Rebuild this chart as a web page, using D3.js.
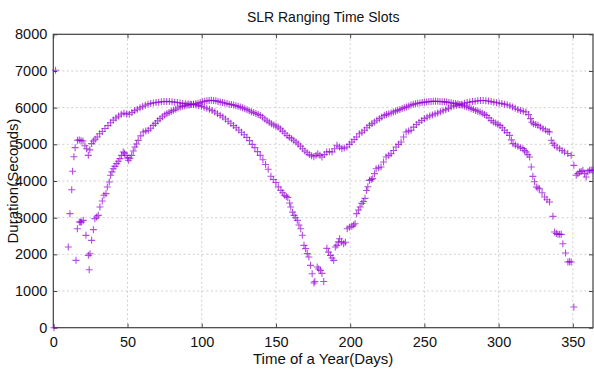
<!DOCTYPE html>
<html>
<head>
<meta charset="utf-8">
<script src="https://cdn.jsdelivr.net/npm/d3@7"></script>
<style>
  html, body { margin: 0; padding: 0; background: #fff; }
  svg { display: block; }
  text { font-family: "Liberation Sans", Arial, sans-serif; fill: #111; }
</style>
</head>
<body>
<svg id="chart" width="594" height="370"></svg>
<script>
// ---- Data (day of year, duration in seconds) ----
const chartTitle = "SLR Ranging Time Slots";
const xLabel = "Time of a Year(Days)";
const yLabel = "Duration(Seconds)";
const xTicks = [0, 50, 100, 150, 200, 250, 300, 350];
const yTicks = [0, 1000, 2000, 3000, 4000, 5000, 6000, 7000, 8000];

const extraPoints = [[1.5,7020],[0.5,0]];

const passA = [
[12.4,3760],[13,4265],[13.9,4660],[14.7,4910],[16.3,5110],[17.5,5120],[18.7,5100],[20,5090],[21.3,4960],[22.5,4880],[23.6,4700],[24.6,4850],[25.8,5020],[27,5090],[28.2,5140],[29.6,5200],[31.2,5290],[33,5350],[34.8,5430],[36.8,5510],[38.6,5590],[40.4,5660],[42.2,5720],[44,5770],[45.8,5820],[47.6,5850],[49.4,5830],[51.2,5820],[53,5870],[54.8,5920],[56.6,5955],[58.4,5995],[60.2,6030],[62,6065],[63.8,6095],[65.6,6115],[67.4,6130],[69.2,6140],[71,6150],[72.8,6160],[74.6,6165],[76.4,6170],[78.2,6165],[80,6160],[81.8,6150],[83.6,6140],[85.4,6130],[87.2,6115],[89,6105],[90.8,6100],[92.6,6095],[94.4,6090],[96.2,6075],[98,6055],[99.8,6035],[101.6,6010],[103.4,5985],[105.2,5955],[107,5920],[108.8,5880],[110.6,5835],[112.4,5790],[114.2,5745],[116,5690],[117.8,5630],[119.6,5575],[121.4,5510],[123.2,5450],[125,5390],[126.8,5330],[128.6,5260],[130.4,5190],[132.2,5100],[134,5000],[135.8,4910],[137.6,4800],[139.4,4700],[141.2,4580],[143,4450],[144.8,4320],[146.6,4130],[148.2,4040],[150,3960],[151.6,3840],[153.3,3745],[154.5,3680],[155.6,3610],[157,3580],[158,3550],[159.2,3400],[160,3290],[161.2,3150],[162.2,3064],[163.3,3000],[164.4,2927],[165.5,2800],[166.7,2700],[167.8,2520],[168.9,2245],[170,2155],[171.1,2020],[172.2,1927],[173.3,1700],[174.4,1473],[175.6,1218],[176.2,1260],[177.8,1655],[178.8,1600],[180,1564],[181,1480],[182.2,1260],
[184.3,2164],[185.4,2060],[186.7,1973],[187.8,1900],[188.9,1836],[190,2200],[191.1,2245],[192.1,2340],[192.9,2427],[194.2,2340],[195.6,2290],[196.8,2330],[198,2700],[199.5,2740],[201.1,2764],[202.3,2800],[203.3,2836],[204.4,3110],[205.6,3208],[206.7,3290],[207.9,3390],[208.9,3440],[210,3527],[211,3740],[211.9,3843],[213,4018],[214.2,4040],[215.2,4064],[216.4,4200],[217.5,4336],[219.2,4360],[220.8,4382],[222.5,4520],[224.2,4655],[226,4700],[227.6,4745],[229.2,4830],[230.9,4927],[232.6,5000],[234.3,5064],[236,5200],[237.7,5336],[239.4,5360],[241,5382],[242.8,5470],[244.6,5540],[246.4,5600],[248.2,5650],[250,5700],[251.8,5740],[253.6,5775],[255.4,5800],[257.2,5830],[259,5855],[260.8,5885],[262.6,5915],[264.4,5945],[266.2,5980],[268,6018],[269.8,6045],[271.6,6064],[273.4,6080],[275.2,6095],[277,6120],[278.8,6140],[280.6,6155],[282.4,6165],[284.2,6175],[286,6185],[287.8,6195],[289.6,6195],[291.4,6190],[293.2,6180],[295,6165],[296.8,6150],[298.6,6135],[300.4,6125],[302.2,6110],[304,6095],[305.8,6080],[307.6,6050],[309.4,6020],[311.2,5985],[313,5950],[314.8,5920],[316.6,5900],[318.4,5880],[320.2,5810],[321.5,5700],[322.4,5600],[323.5,5560],[325,5540],[326.5,5518],[328.2,5470],[329.9,5427],[331.6,5390],[333.2,5350],[334.3,5336],[335.5,5110],[336.6,5030],[337.7,4973],[339.4,4920],[341.1,4880],[342.8,4830],[344.4,4790],[346.6,4750],[348.9,4700],[350.7,4427],[352.3,4155],[353.4,4200],[354.5,4245],[355.6,4260],[356.8,4290],[357.9,4200],[359,4110],[360.2,4250],[361.3,4290],[362.4,4300],[363.5,4290]
];

const passB = [
[10.1,2200],[11.2,3110],[15.3,1836],[16.2,2700],[17.5,2882],[18.3,2882],[19.1,2882],[20.2,2927],[22,2518],[23.6,1973],[24.2,1582],[24.7,2018],[25.8,2382],[27,2673],[28,2973],[29.2,3018],[30.3,3064],[31.4,3290],[33,3455],[34.1,3610],[35.5,3655],[36.4,3836],[37.7,3973],[38.6,4155],[39.5,4250],[40.4,4336],[41.5,4400],[42.7,4473],[43.8,4540],[44.9,4610],[46,4700],[47.1,4790],[48,4760],[49,4700],[50,4630],[50.6,4564],[51.7,4620],[52.8,4700],[53.9,4820],[55,4927],[56.1,5010],[57.2,5109],[58.9,5230],[60.6,5336],[62.3,5360],[64,5382],[65.6,5440],[67.3,5518],[68.8,5570],[70.3,5640],[71.9,5700],[73.5,5750],[75,5800],[76.5,5836],[78,5870],[79.5,5900],[81,5927],[82.5,5955],[84,5990],[85.5,6018],[87,6035],[88.5,6050],[90,6064],[91.5,6075],[93,6085],[94.5,6090],[96,6105],[97.5,6120],[99,6140],[100.5,6160],[102,6175],[103.5,6185],[105,6195],[106.5,6200],[108,6195],[109.5,6185],[111,6170],[112.5,6155],[114,6140],[115.5,6125],[117,6110],[118.5,6095],[120,6085],[121.5,6070],[123,6055],[124.5,6035],[126,6015],[127.5,5995],[129,5970],[130.5,5945],[132,5915],[133.5,5890],[135,5865],[136.5,5840],[138,5815],[139.5,5785],[141,5740],[142.5,5690],[144,5640],[145.5,5600],[147,5560],[148.5,5530],[150,5500],[151.5,5470],[153,5420],[154.5,5360],[156,5300],[157.5,5240],[159,5190],[160.5,5150],[162,5110],[163.5,5060],[165,5010],[166.5,4950],[168,4880],[169.5,4820],[171,4770],[172.5,4720],[174,4690],[175.5,4660],[177,4700],[178.2,4745],[179.6,4700],[181,4655],[182.6,4720],[184.2,4790],[186,4800],[187.8,4790],[189.5,4880],[191.1,4973],[192.8,4930],[194.4,4882],[196,4900],[197.8,4927],[199.5,5000],[201.1,5064],[202.7,5130],[204.4,5200],[206.2,5290],[207.9,5330],[209.6,5382],[211.3,5450],[213,5518],[214.7,5565],[216.3,5610],[218,5655],[219.7,5700],[221.3,5745],[223,5790],[224.5,5810],[226,5835],[227.6,5855],[229.1,5880],[230.6,5905],[232,5927],[233.5,5950],[235,5975],[236.5,6000],[238,6020],[239.5,6045],[241,6070],[242.5,6090],[244,6105],[245.5,6120],[247,6130],[248.5,6140],[250,6150],[251.5,6155],[253,6165],[254.5,6170],[256,6172],[257.5,6173],[259,6172],[260.5,6168],[262,6163],[263.5,6158],[265,6152],[266.5,6143],[268,6135],[269.5,6122],[271,6112],[272.5,6098],[274,6080],[275.5,6066],[277,6045],[278.5,6025],[280,6000],[281.5,5973],[283,5950],[284.5,5925],[286,5900],[287.5,5880],[289,5850],[290.5,5815],[292,5785],[293.5,5720],[295,5650],[296.5,5610],[298,5580],[299.5,5545],[301,5510],[302.5,5450],[304,5382],[305.7,5320],[307.4,5245],[308.6,5120],[309.7,5018],[311.3,4980],[313,4945],[314.7,4910],[316.4,4882],[317.5,4830],[318.6,4790],[319.7,4720],[320.9,4655],[322,4382],[323.1,4127],[324.2,3980],[325.4,3836],[326.5,3810],[327.6,3790],[329.3,3680],[331,3564],[332.6,3490],[334.3,3427],[336.6,3036],[337.7,2610],[338.9,2570],[340,2545],[341.1,2545],[342.2,2545],[343.3,2290],[345.1,2036],[346.7,1790],[347.8,1800],[348.9,1790],[350.7,564]
];

// ---- Layout ----
const plotLeft = 53.3, plotRight = 593, plotTop = 34.3, plotBottom = 327.7;
const svg = d3.select("#chart");

const x = d3.scaleLinear().domain([0, 363.6]).range([plotLeft, plotRight]);
const y = d3.scaleLinear().domain([0, 8000]).range([plotBottom, plotTop]);

// grid
const grid = svg.append("g").attr("stroke", "#c4c4c4").attr("stroke-width", 0.8).attr("stroke-dasharray", "2,2.5");
grid.selectAll("line.gx").data(xTicks.filter(d => d > 0)).enter().append("line")
  .attr("x1", d => x(d)).attr("x2", d => x(d)).attr("y1", plotTop).attr("y2", plotBottom);
grid.selectAll("line.gy").data(yTicks.filter(d => d > 0 && d < 8000)).enter().append("line")
  .attr("x1", plotLeft).attr("x2", plotRight).attr("y1", d => y(d)).attr("y2", d => y(d));

// axes via d3
const xAxis = svg.append("g").attr("transform", `translate(0,${plotBottom})`)
  .call(d3.axisBottom(x).tickValues(xTicks).tickSize(-4).tickPadding(9).tickFormat(d3.format("d")));
const yAxis = svg.append("g").attr("transform", `translate(${plotLeft},0)`)
  .call(d3.axisLeft(y).tickValues(yTicks).tickSize(-4).tickPadding(6).tickFormat(d3.format("d")));
[xAxis, yAxis].forEach(a => {
  a.select(".domain").remove();
  a.selectAll(".tick line").attr("stroke", "#444").attr("stroke-width", 1);
  a.selectAll(".tick text").attr("font-size", "14.5px").attr("fill", "#111")
    .attr("font-family", "'Liberation Sans', Arial, sans-serif");
});
// mirrored ticks on top/right
const topAxis = svg.append("g").attr("transform", `translate(0,${plotTop})`)
  .call(d3.axisTop(x).tickValues(xTicks).tickSize(-4).tickFormat(""));
const rightAxis = svg.append("g").attr("transform", `translate(${plotRight},0)`)
  .call(d3.axisRight(y).tickValues(yTicks).tickSize(-4).tickFormat(""));
[topAxis, rightAxis].forEach(a => {
  a.select(".domain").remove();
  a.selectAll(".tick line").attr("stroke", "#444");
});

// frame
svg.append("rect").attr("x", plotLeft).attr("y", plotTop)
  .attr("width", plotRight - plotLeft).attr("height", plotBottom - plotTop)
  .attr("fill", "none").attr("stroke", "#404040").attr("stroke-width", 1.2);

// points as "+" markers
const allPoints = extraPoints.concat(passA, passB);
const s = 3.5;
svg.append("g").attr("fill", "none").attr("stroke", "#9400d3").attr("stroke-width", 1.1).attr("stroke-opacity", 0.7)
  .selectAll("path").data(allPoints).enter().append("path")
  .attr("d", d => {
    const px = x(d[0]), py = y(d[1]);
    return `M${px - s},${py}H${px + s}M${px},${py - s}V${py + s}`;
  });

// texts
svg.append("text").attr("x", (plotLeft + plotRight) / 2).attr("y", 22)
  .attr("text-anchor", "middle").attr("font-size", "14px").text(chartTitle);
svg.append("text").attr("x", (plotLeft + plotRight) / 2).attr("y", 364)
  .attr("text-anchor", "middle").attr("font-size", "15px").text(xLabel);
svg.append("text").attr("transform", `translate(18,${(plotTop + plotBottom) / 2}) rotate(-90)`)
  .attr("text-anchor", "middle").attr("font-size", "15px").text(yLabel);
</script>
</body>
</html>
